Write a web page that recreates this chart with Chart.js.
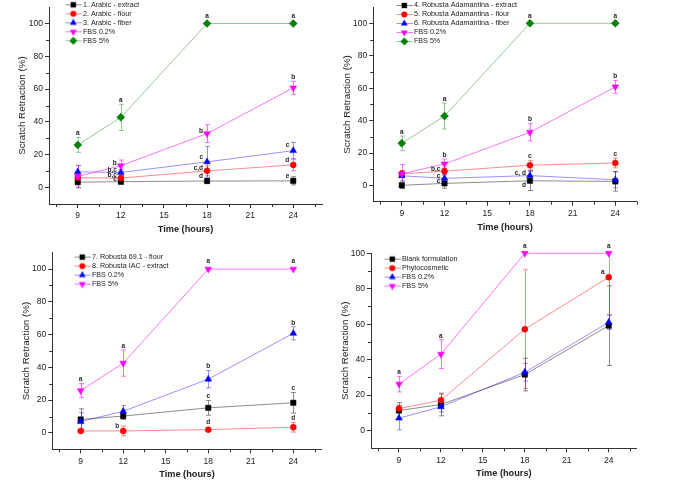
<!DOCTYPE html>
<html><head><meta charset="utf-8">
<script src="https://cdn.jsdelivr.net/npm/chart.js@4.4.1/dist/chart.umd.min.js"></script>
<style>
html,body{margin:0;padding:0;background:#fff;}
body{width:685px;height:484px;position:relative;overflow:hidden;}
canvas{position:absolute;}
</style></head><body>
<canvas id="c1" width="340" height="240" style="left:0;top:0"></canvas>
<canvas id="c2" width="345" height="240" style="left:340px;top:0"></canvas>
<canvas id="c3" width="340" height="244" style="left:0;top:240px"></canvas>
<canvas id="c4" width="345" height="244" style="left:340px;top:240px"></canvas>
<script>
// ---------------- DATA ----------------
const times = [9, 12, 18, 24];
const xMajorTicks = [9, 12, 15, 18, 21, 24];
const xMinorTicks = [7.5, 10.5, 13.5, 16.5, 19.5, 22.5, 25.5];
const yMajorTicks = [0, 20, 40, 60, 80, 100];
const yMinorTicks = [10, 30, 50, 70, 90];
const xAxisTitle = 'Time (hours)';
const yAxisTitle = 'Scratch Retraction (%)';

// Panel 1
const p1Labels = ['1. Arabic - extract', '2. Arabic - flour', '3. Arabic - fiber', 'FBS 0.2%', 'FBS 5%'];
const p1Extract = [3.3, 3.6, 4.0, 4.1];
const p1ExtractErr = [3.5, 1.5, 1.5, 2.5];
const p1ExtractLetters = ['', 'c', 'd', 'e'];
const p1Flour = [6.0, 5.8, 10.2, 13.8];
const p1FlourErr = [2, 1.5, 3, 3.6];
const p1FlourLetters = ['', 'b,c', 'c,d', 'd'];
const p1Fiber = [9.6, 9.2, 15.7, 22.5];
const p1FiberErr = [4, 2, 9.4, 5];
const p1FiberLetters = ['', 'b,c', 'c', 'c'];
const p1Fbs02 = [6.8, 13.3, 32.9, 60.8];
const p1Fbs02Err = [6.5, 3.5, 5.4, 4];
const p1Fbs02Letters = ['', 'b', 'b', 'b'];
const p1Fbs5 = [26.0, 42.8, 100, 100];
const p1Fbs5Err = [4.5, 8, 0, 0];
const p1Fbs5Letters = ['a', 'a', 'a', 'a'];

// Panel 2
const p2Labels = ['4. Robusta Adamantina - extract', '5. Robusta Adamantina - flour', '6. Robusta Adamantina - fiber', 'FBS 0.2%', 'FBS 5%'];
const p2Extract = [0.1, 1.3, 2.9, 2.5];
const p2ExtractErr = [2, 3, 6, 6];
const p2ExtractLetters = ['', 'c', 'd', ''];
const p2Flour = [7.2, 8.8, 12.5, 13.9];
const p2FlourErr = [2, 2, 3, 3];
const p2FlourLetters = ['', 'b,c', 'c', 'c'];
const p2Fiber = [6.0, 4.4, 6.1, 3.5];
const p2FiberErr = [3, 2, 3, 5];
const p2FiberLetters = ['', 'c', 'c, d', ''];
const p2Fbs02 = [7.2, 13.3, 32.8, 60.8];
const p2Fbs02Err = [5.7, 3, 5.3, 4];
const p2Fbs02Letters = ['', 'b', 'b', 'b'];
const p2Fbs5 = [26.0, 42.8, 100, 100];
const p2Fbs5Err = [4.5, 8, 0, 0];
const p2Fbs5Letters = ['a', 'a', 'a', 'a'];

// Panel 3
const p3Labels = ['7. Robusta 69.1 - flour', '8. Robusta IAC - extract', 'FBS 0.2%', 'FBS 5%'];
const p3Flour = [8.2, 10.3, 15.3, 18.4];
const p3FlourErr = [6.5, 2, 4.5, 6.3];
const p3FlourLetters = ['', '', 'c', 'c'];
const p3Extract = [1.2, 1.2, 2.0, 3.5];
const p3ExtractErr = [1, 3, 1, 3];
const p3ExtractLetters = ['', 'b', 'd', 'd'];
const p3Fbs02 = [6.9, 13.2, 32.8, 60.8];
const p3Fbs02Err = [5.5, 3.5, 5.3, 4];
const p3Fbs02Letters = ['', '', 'b', 'b'];
const p3Fbs5 = [25.8, 42.6, 100, 100];
const p3Fbs5Err = [4.3, 8, 0, 0];
const p3Fbs5Letters = ['a', 'a', 'a', 'a'];

// Panel 4
const p4Labels = ['Blank formulation', 'Phytocosmetic', 'FBS 0.2%', 'FBS 5%'];
const p4Blank = [11.3, 14.7, 31.6, 59.2];
const p4BlankErr = [4.5, 6.4, 9.2, 22.5];
const p4BlankLetters = ['', '', '', ''];
const p4Phyto = [12.4, 17.1, 57.2, 86.5];
const p4PhytoErr = [2, 3.5, 33.5, 21.2];
const p4PhytoLetters = ['', '', '', 'a'];
const p4Fbs02 = [7.0, 13.4, 32.9, 61.1];
const p4Fbs02Err = [6.6, 3, 5, 4];
const p4Fbs02Letters = ['', '', '', ''];
const p4Fbs5 = [26.2, 43.1, 100, 100];
const p4Fbs5Err = [4.4, 8.1, 0, 0];
const p4Fbs5Letters = ['a', 'a', 'a', 'a'];

// ---------------- STYLE ----------------
const FONT = '"Liberation Sans", Arial, Helvetica, sans-serif';
Chart.defaults.font.family = FONT;
const STYLE = {
  black:   {color: '#000000', line: 'rgba(0,0,0,0.45)',    shape: 'rect',     r: 3.8, rot: 0},
  red:     {color: '#ff0000', line: 'rgba(255,0,0,0.45)',  shape: 'circle',   r: 3.0, rot: 0},
  blue:    {color: '#0000ff', line: 'rgba(0,0,255,0.42)',  shape: 'triangle', r: 3.9, rot: 0},
  magenta: {color: '#ff00ff', line: 'rgba(255,0,255,0.55)',shape: 'triangle', r: 3.9, rot: 180},
  green:   {color: '#008000', line: 'rgba(0,128,0,0.42)',  shape: 'rectRot',  r: 4.0, rot: 0}
};
// placement codes of significance letters (styling only)
const PL = {
  p1: [['', 'l', 'ul', 'ul'], ['', 'l', 'l', 'ul'], ['', 'l', 'ul', 'ul'], ['', 'l', 'l', 'top'], ['top', 'top', 'top', 'top']],
  p2: [['', 'l', 'bl', ''], ['', 'l', 'top', 'top'], ['', 'l', 'l', ''], ['', 'top', 'top', 'top'], ['top', 'top', 'top', 'top']],
  p3: [['', '', 'top', 'top'], ['', 'ul', 'top', 'top'], ['', '', 'top', 'top'], ['top', 'top', 'top', 'top']],
  p4: [['', '', '', ''], ['', '', '', 'ul'], ['', '', '', ''], ['top', 'top', 'top', 'top']]
};

function drawMarker(g, st, x, y) {
  g.fillStyle = st.color;
  g.beginPath();
  if (st.shape === 'rect') {
    const s = st.r * Math.SQRT1_2; g.rect(x - s, y - s, 2 * s, 2 * s);
  } else if (st.shape === 'circle') {
    g.arc(x, y, st.r, 0, Math.PI * 2);
  } else if (st.shape === 'triangle') {
    const d = st.rot === 180 ? -1 : 1; const r = st.r;
    g.moveTo(x, y - d * r);
    g.lineTo(x + r * 0.866, y + d * r * 0.5);
    g.lineTo(x - r * 0.866, y + d * r * 0.5);
    g.closePath();
  } else {
    const r = st.r; g.moveTo(x, y - r); g.lineTo(x + r, y); g.lineTo(x, y + r); g.lineTo(x - r, y); g.closePath();
  }
  g.fill();
}
function makeSwatch(st) {
  const c = document.createElement('canvas'); c.width = 17; c.height = 9;
  const g = c.getContext('2d');
  g.strokeStyle = st.line; g.lineWidth = 1;
  g.beginPath(); g.moveTo(0, 4.5); g.lineTo(17, 4.5); g.stroke();
  drawMarker(g, st, 8.5, 4.5);
  return c;
}

const errorBarPlugin = {
  id: 'errorBars',
  beforeDatasetsDraw(chart) {
    const ctx = chart.ctx, ys = chart.scales.y, a = chart.chartArea;
    ctx.save();
    ctx.beginPath(); ctx.rect(a.left, a.top - 0.5, a.right - a.left, a.bottom - a.top + 1); ctx.clip();
    ctx.lineWidth = 1;
    chart.data.datasets.forEach((ds, i) => {
      const meta = chart.getDatasetMeta(i);
      ctx.strokeStyle = ds.borderColor;
      ds.errors.forEach((e, j) => {
        if (!e) return;
        const x = Math.round(meta.data[j].x) + 0.5;
        const v = ds.data[j].y;
        const y1 = ys.getPixelForValue(v + e), y2 = ys.getPixelForValue(v - e);
        ctx.beginPath();
        ctx.moveTo(x, y1); ctx.lineTo(x, y2);
        ctx.moveTo(x - 2.5, y1); ctx.lineTo(x + 2.5, y1);
        ctx.moveTo(x - 2.5, y2); ctx.lineTo(x + 2.5, y2);
        ctx.stroke();
      });
    });
    ctx.restore();
  },
  afterDatasetsDraw(chart) {
    const ctx = chart.ctx, ys = chart.scales.y;
    ctx.save();
    ctx.font = 'bold 6.5px ' + FONT; ctx.fillStyle = '#222'; ctx.textBaseline = 'middle';
    chart.data.datasets.forEach((ds, i) => {
      const meta = chart.getDatasetMeta(i);
      ds.letters.forEach((txt, j) => {
        if (!txt) return;
        const pt = meta.data[j]; const p = ds.placement[j];
        if (p === 'top') {
          const errTop = ys.getPixelForValue(ds.data[j].y + (ds.errors[j] || 0));
          ctx.textAlign = 'center';
          ctx.fillText(txt, pt.x, Math.min(errTop - 4, pt.y - 7.5));
        } else {
          const dy = {ul: -5, l: -2.5, bl: 4}[p] || 0;
          ctx.textAlign = 'right';
          ctx.fillText(txt, pt.x - 4, pt.y + dy);
        }
      });
    });
    ctx.restore();
  },
  afterDraw(chart) {
    const ctx = chart.ctx, xs = chart.scales.x, ys = chart.scales.y, a = chart.chartArea;
    ctx.save(); ctx.strokeStyle = '#333'; ctx.lineWidth = 1; ctx.beginPath();
    xMinorTicks.filter(v => v >= xs.min && v <= xs.max).forEach(v => {
      const px = Math.round(xs.getPixelForValue(v)) + 0.5;
      ctx.moveTo(px, a.bottom); ctx.lineTo(px, a.bottom + 3);
    });
    yMinorTicks.filter(v => v >= ys.min && v <= ys.max).forEach(v => {
      const py = Math.round(ys.getPixelForValue(v)) + 0.5;
      ctx.moveTo(a.left, py); ctx.lineTo(a.left - 3, py);
    });
    ctx.stroke(); ctx.restore();
  }
};

function makeChart(id, series, geo) {
  const datasets = series.map((s, i) => {
    const st = STYLE[s.style];
    return {
      label: s.label,
      data: times.map((t, k) => ({x: t, y: s.values[k]})),
      errors: s.errors, letters: s.letters, placement: s.placement,
      swatch: makeSwatch(st),
      borderColor: st.line, borderWidth: 1, backgroundColor: st.color,
      pointStyle: st.shape, pointRotation: st.rot, pointRadius: st.r, pointHoverRadius: st.r,
      pointBackgroundColor: st.color, pointBorderColor: st.color, pointBorderWidth: 0.5,
      tension: 0, clip: false, order: -i
    };
  });
  const place = {
    id: 'legendPlace',
    afterLayout(chart) {
      const lg = chart.legend;
      lg.left = geo.legX - 6 - 2; lg.top = geo.legY - 3.6 - 2;
      lg.right = lg.left + 300; lg.bottom = lg.top + 150;
    }
  };
  return new Chart(document.getElementById(id), {
    type: 'line',
    data: {datasets},
    options: {
      responsive: false, animation: false, events: [],
      layout: {padding: {left: 0, top: geo.top, right: geo.right, bottom: 0}},
      plugins: {
        tooltip: {enabled: false},
        legend: {
          position: 'chartArea', align: 'start',
          labels: {
            usePointStyle: true, pointStyleWidth: 12, padding: 1.8,
            font: {size: 7.2, family: FONT}, color: '#222',
            generateLabels: (chart) => chart.data.datasets.map((ds, i) => ({
              text: ds.label, pointStyle: ds.swatch, fillStyle: ds.backgroundColor,
              strokeStyle: ds.borderColor, lineWidth: 0, hidden: false, datasetIndex: i, fontColor: '#222'
            }))
          }
        }
      },
      scales: {
        x: {
          type: 'linear', min: 7, max: geo.xMax,
          afterBuildTicks: ax => { ax.ticks = xMajorTicks.map(v => ({value: v})); },
          afterFit: s => { s.height = geo.H; },
          ticks: {font: {size: 8.5}, color: '#222', padding: 3, maxRotation: 0, autoSkip: false},
          grid: {drawOnChartArea: false, drawTicks: true, tickLength: 4, color: '#333', tickColor: '#333'},
          border: {display: true, color: '#333', width: 1},
          title: {display: true, text: xAxisTitle, color: '#222',
            font: {size: 9.2, weight: 'bold', lineHeight: 1}, padding: {top: 0, bottom: geo.xtp}}
        },
        y: {
          type: 'linear', min: -10, max: geo.yMax,
          afterBuildTicks: ax => { ax.ticks = yMajorTicks.map(v => ({value: v})); },
          afterFit: s => { s.width = geo.W; },
          ticks: {font: {size: 8.5}, color: '#222', padding: 2},
          grid: {drawOnChartArea: false, drawTicks: true, tickLength: 4, color: '#333', tickColor: '#333'},
          border: {display: true, color: '#333', width: 1},
          title: {display: true, text: yAxisTitle, color: '#222',
            font: {size: 9.8, lineHeight: 1}, padding: {top: geo.ytp, bottom: 0}}
        }
      }
    },
    plugins: [errorBarPlugin, place]
  });
}

function ser(label, style, values, errors, letters, placement) {
  return {label, style, values, errors, letters, placement};
}

makeChart('c1', [
  ser(p1Labels[0], 'black', p1Extract, p1ExtractErr, p1ExtractLetters, PL.p1[0]),
  ser(p1Labels[1], 'red', p1Flour, p1FlourErr, p1FlourLetters, PL.p1[1]),
  ser(p1Labels[2], 'blue', p1Fiber, p1FiberErr, p1FiberLetters, PL.p1[2]),
  ser(p1Labels[3], 'magenta', p1Fbs02, p1Fbs02Err, p1Fbs02Letters, PL.p1[3]),
  ser(p1Labels[4], 'green', p1Fbs5, p1Fbs5Err, p1Fbs5Letters, PL.p1[4])
], {top: 5, right: 18, W: 49, H: 36, xMax: 26, yMax: 110, xtp: 5.5, ytp: 17, legX: 73.5, legY: 5});

makeChart('c2', [
  ser(p2Labels[0], 'black', p2Extract, p2ExtractErr, p2ExtractLetters, PL.p2[0]),
  ser(p2Labels[1], 'red', p2Flour, p2FlourErr, p2FlourLetters, PL.p2[1]),
  ser(p2Labels[2], 'blue', p2Fiber, p2FiberErr, p2FiberLetters, PL.p2[2]),
  ser(p2Labels[3], 'magenta', p2Fbs02, p2Fbs02Err, p2Fbs02Letters, PL.p2[3]),
  ser(p2Labels[4], 'green', p2Fbs5, p2Fbs5Err, p2Fbs5Letters, PL.p2[4])
], {top: 3.4, right: 48.3, W: 33.3, H: 38.3, xMax: 25.5, yMax: 110, xtp: 7.8, ytp: 2.6, legX: 64.5, legY: 5.7});

makeChart('c3', [
  ser(p3Labels[0], 'black', p3Flour, p3FlourErr, p3FlourLetters, PL.p3[0]),
  ser(p3Labels[1], 'red', p3Extract, p3ExtractErr, p3ExtractLetters, PL.p3[1]),
  ser(p3Labels[2], 'blue', p3Fbs02, p3Fbs02Err, p3Fbs02Letters, PL.p3[2]),
  ser(p3Labels[3], 'magenta', p3Fbs5, p3Fbs5Err, p3Fbs5Letters, PL.p3[3])
], {top: 12.7, right: 18.3, W: 52.3, H: 34.7, xMax: 26, yMax: 110, xtp: 4.5, ytp: 21.8, legX: 82.5, legY: 17.3});

makeChart('c4', [
  ser(p4Labels[0], 'black', p4Blank, p4BlankErr, p4BlankLetters, PL.p4[0]),
  ser(p4Labels[1], 'red', p4Phyto, p4PhytoErr, p4PhytoLetters, PL.p4[1]),
  ser(p4Labels[2], 'blue', p4Fbs02, p4Fbs02Err, p4Fbs02Letters, PL.p4[2]),
  ser(p4Labels[3], 'magenta', p4Fbs5, p4Fbs5Err, p4Fbs5Letters, PL.p4[3])
], {top: 13.3, right: 48.3, W: 31, H: 35.7, xMax: 26, yMax: 100, xtp: 6.2, ytp: 0.2, legX: 52.5, legY: 19.3});
</script>
</body></html>
